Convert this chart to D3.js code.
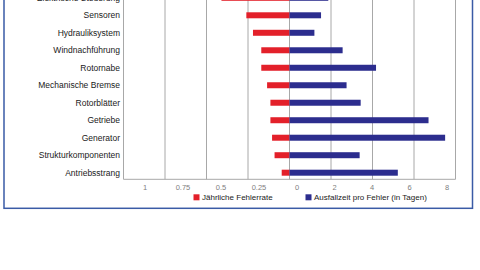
<!DOCTYPE html>
<html><head><meta charset="utf-8">
<script src="https://cdn.jsdelivr.net/npm/d3@7"></script>
<style>html,body{margin:0;padding:0;background:#fff;}svg{display:block;}</style>
</head><body>
<script>
const categories = ["Elektrische Steuerung","Sensoren","Hydrauliksystem","Windnachführung","Rotornabe","Mechanische Bremse","Rotorblätter","Getriebe","Generator","Strukturkomponenten","Antriebsstrang"];
const failureRate = [0.41,0.26,0.22,0.17,0.17,0.135,0.115,0.115,0.105,0.09,0.047];
const downtimeDays = [1.87,1.52,1.2,2.56,4.17,2.75,3.43,6.7,7.5,3.38,5.22];
const leftTicks = [1,0.75,0.5,0.25,0];
const rightTicks = [2,4,6,8];
const legendLabels = ["Jährliche Fehlerrate","Ausfallzeit pro Fehler (in Tagen)"];
const colors = ["#e3202a","#2c2d8e"];

const W=480,H=270;
const svg=d3.select("body").append("svg").attr("width",W).attr("height",H);
svg.append("rect").attr("width",W).attr("height",H).attr("fill","#fff");

const x0=289.5, plotBottom=179.3;
const xL=d3.scaleLinear().domain([0,1]).range([x0,123.5]);
const xR=d3.scaleLinear().domain([0,8]).range([x0,455.5]);
const labL=d3.scaleLinear().domain([0,1]).range([297,145]);
const labR=d3.scaleLinear().domain([0,8]).range([297,447]);
const y=d3.scalePoint().domain(categories).range([-2.2,172.7]);
const bh=6;

// border
svg.append("rect").attr("x",4).attr("y",-10).attr("width",468.5).attr("height",218.3)
  .attr("fill","none").attr("stroke","#3a5ba6").attr("stroke-width",1.5);

// grid
const g=svg.append("g");
leftTicks.forEach(t=>{
  g.append("line").attr("x1",xL(t)).attr("x2",xL(t)).attr("y1",-20).attr("y2",plotBottom)
   .attr("stroke","#a8a8a8").attr("stroke-width",1);
});
rightTicks.forEach(t=>{
  g.append("line").attr("x1",xR(t)).attr("x2",xR(t)).attr("y1",-20).attr("y2",plotBottom)
   .attr("stroke","#a8a8a8").attr("stroke-width",1);
});
g.append("line").attr("x1",xL(1)).attr("x2",xR(8)).attr("y1",plotBottom).attr("y2",plotBottom)
  .attr("stroke","#a8a8a8").attr("stroke-width",1);

// bars
svg.append("g").selectAll("rect").data(categories).join("rect")
  .attr("x",(d,i)=>xL(failureRate[i])).attr("y",d=>y(d)-bh/2)
  .attr("width",(d,i)=>x0-xL(failureRate[i])).attr("height",bh).attr("fill",colors[0]);
svg.append("g").selectAll("rect").data(categories).join("rect")
  .attr("x",x0).attr("y",d=>y(d)-bh/2)
  .attr("width",(d,i)=>xR(downtimeDays[i])-x0).attr("height",bh).attr("fill",colors[1]);

// category labels
svg.append("g").selectAll("text").data(categories).join("text")
  .attr("x",120).attr("y",d=>y(d)+3).attr("text-anchor","end")
  .attr("font-family","'Liberation Sans',Arial,sans-serif").attr("font-size",8.5)
  .attr("fill","#1a1a1a").text(d=>d);

// tick labels
const tl=svg.append("g").attr("font-family","'Liberation Sans',Arial,sans-serif")
  .attr("font-size",7.5).attr("fill","#808080").attr("text-anchor","middle");
leftTicks.forEach(t=>tl.append("text").attr("x",labL(t)).attr("y",189.5).text(String(t)));
rightTicks.forEach(t=>tl.append("text").attr("x",labR(t)).attr("y",189.5).text(String(t)));

// legend
const lg=svg.append("g").attr("font-family","'Liberation Sans',Arial,sans-serif").attr("font-size",8).attr("fill","#1a1a1a");
const lx=[193.5,305.5];
legendLabels.forEach((l,i)=>{
  lg.append("rect").attr("x",lx[i]).attr("y",194.3).attr("width",6).attr("height",6).attr("fill",colors[i]);
  lg.append("text").attr("x",lx[i]+8.5).attr("y",200.3).text(l);
});
</script>
</body></html>
